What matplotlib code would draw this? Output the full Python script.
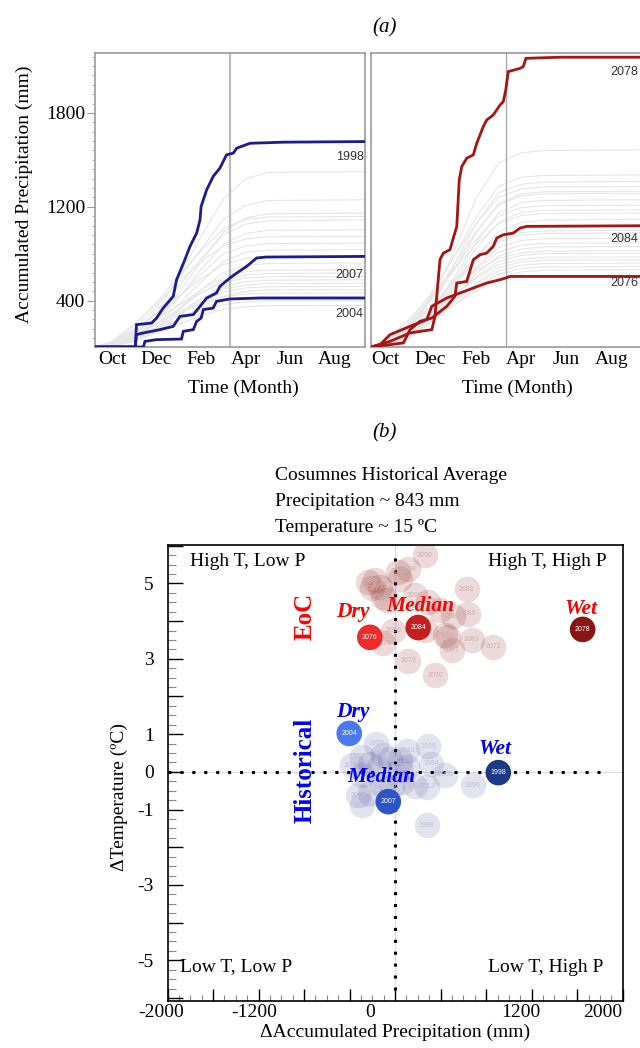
import matplotlib
matplotlib.use('Agg')
import matplotlib.pyplot as plt
import matplotlib.transforms as mtransforms
from matplotlib.ticker import FixedLocator, MultipleLocator, FixedFormatter

plt.rcParams['font.family'] = ['Liberation Serif', 'DejaVu Serif']

# ---------------- Panel (a) data ----------------
MONTH_POS = [0, 2, 4, 6, 8, 10]
MONTH_LABELS = ['Oct', 'Dec', 'Feb', 'Apr', 'Jun', 'Aug']
Y_TICK_POS = [600, 1200, 1800]
Y_TICK_LABELS = ['400', '1200', '1800']

GRID_L = [-0.76, 0.0, 1.0, 2.0, 3.0, 4.0, 5.0, 6.0, 7.0, 11.35]
GRAY_L = [
    [304, 310, 380, 520, 760, 1010, 1250, 1380, 1420, 1425],
    [304, 320, 420, 560, 740, 930, 1120, 1210, 1240, 1245],
    [304, 305, 360, 480, 650, 850, 1040, 1130, 1155, 1160],
    [304, 330, 440, 590, 760, 920, 1060, 1120, 1135, 1138],
    [304, 315, 400, 520, 690, 870, 1020, 1090, 1110, 1117],
    [304, 310, 370, 470, 620, 800, 960, 1030, 1050, 1053],
    [304, 340, 450, 580, 720, 850, 950, 995, 1008, 1010],
    [304, 320, 390, 490, 620, 770, 900, 950, 965, 968],
    [304, 310, 360, 450, 580, 720, 850, 910, 922, 926],
    [304, 330, 420, 520, 630, 740, 830, 870, 878, 880],
    [304, 306, 350, 430, 540, 670, 780, 825, 838, 841],
    [304, 325, 400, 480, 570, 670, 750, 785, 795, 798],
    [304, 312, 370, 450, 550, 650, 730, 765, 774, 777],
    [304, 335, 410, 490, 570, 650, 715, 745, 753, 755],
    [304, 308, 350, 420, 510, 610, 690, 722, 731, 734],
    [304, 320, 380, 450, 530, 610, 675, 700, 710, 712],
    [304, 318, 365, 430, 510, 590, 655, 682, 689, 691],
    [304, 305, 340, 400, 480, 560, 630, 660, 668, 670],
    [304, 330, 390, 450, 520, 580, 625, 643, 648, 649],
    [304, 310, 350, 410, 480, 550, 600, 620, 626, 628],
    [304, 322, 370, 420, 480, 535, 575, 592, 598, 600],
    [304, 309, 345, 395, 450, 505, 545, 562, 568, 570],
]

GRID_R = [-0.62, 0.0, 1.0, 2.0, 3.0, 4.0, 5.0, 6.0, 7.0, 11.28]
GRAY_R = [
    [304, 315, 400, 600, 900, 1250, 1480, 1545, 1560, 1564],
    [304, 320, 430, 620, 870, 1130, 1330, 1390, 1400, 1404],
    [304, 310, 380, 560, 820, 1090, 1290, 1345, 1358, 1362],
    [304, 330, 450, 640, 870, 1090, 1260, 1315, 1327, 1330],
    [304, 312, 390, 560, 790, 1030, 1220, 1283, 1296, 1300],
    [304, 318, 420, 600, 820, 1040, 1210, 1270, 1283, 1287],
    [304, 308, 370, 530, 740, 970, 1160, 1228, 1241, 1245],
    [304, 325, 440, 610, 800, 990, 1140, 1195, 1207, 1210],
    [304, 310, 380, 520, 720, 930, 1100, 1165, 1177, 1180],
    [304, 340, 470, 630, 790, 960, 1090, 1145, 1157, 1160],
    [304, 306, 360, 490, 680, 880, 1040, 1100, 1115, 1120],
    [304, 322, 410, 550, 720, 880, 1010, 1060, 1071, 1075],
    [304, 314, 390, 520, 690, 860, 990, 1035, 1046, 1050],
    [304, 330, 430, 560, 710, 860, 975, 1020, 1029, 1032],
    [304, 309, 370, 490, 650, 810, 940, 985, 996, 1000],
    [304, 318, 400, 520, 660, 800, 910, 955, 966, 970],
    [304, 305, 350, 460, 610, 770, 885, 930, 943, 947],
    [304, 335, 440, 560, 680, 790, 870, 905, 916, 920],
    [304, 312, 380, 490, 620, 750, 850, 890, 901, 904],
    [304, 326, 410, 510, 630, 740, 830, 865, 877, 880],
    [304, 307, 360, 460, 590, 710, 810, 848, 859, 862],
    [304, 320, 390, 480, 590, 700, 790, 826, 837, 840],
    [304, 310, 370, 460, 570, 680, 770, 806, 816, 819],
    [304, 330, 400, 480, 570, 660, 745, 784, 795, 798],
]

Y1998_M = [-0.76, 1.05, 1.1, 1.78, 2.0, 2.3, 2.75, 2.9, 3.27, 3.5, 3.8, 3.95, 4.0, 4.25,
           4.54, 4.84, 5.14, 5.44, 5.6, 6.19, 7.7, 11.35]
Y1998_V = [304, 304, 447, 457, 489, 553, 628, 734, 862, 947, 1032, 1117, 1202, 1309,
           1394, 1447, 1532, 1543, 1575, 1606, 1613, 1617]
Y2007_M = [-0.76, 1.05, 1.1, 1.41, 2.15, 2.75, 3.05, 3.65, 3.95, 4.25, 4.69, 4.84, 5.29,
           5.6, 6.04, 6.49, 6.93, 11.35]
Y2007_V = [304, 304, 383, 394, 415, 436, 500, 511, 564, 617, 649, 691, 745,
           777, 819, 873, 879, 883]
Y2004_M = [-0.76, 1.41, 1.48, 2.0, 3.12, 3.2, 3.65, 3.8, 4.0, 4.1, 4.54, 4.69, 5.29, 6.64, 11.35]
Y2004_V = [304, 304, 340, 351, 355, 404, 415, 468, 489, 543, 553, 596, 611, 617, 617]

Y2078_M = [-0.62, 0.22, 1.1, 2.06, 2.2, 2.42, 2.57, 2.86, 3.16, 3.27, 3.38, 3.6, 3.89, 4.04,
           4.33, 4.48, 4.77, 5.07, 5.21, 5.32, 5.43, 5.95, 6.09, 6.21, 7.71, 11.28]
Y2078_V = [304, 340, 394, 415, 500, 862, 904, 926, 1075, 1372, 1457, 1511, 1532, 1606,
           1713, 1755, 1787, 1851, 1872, 1947, 2064, 2085, 2096, 2149, 2156, 2156]
Y2084_M = [-0.62, 0.81, 1.1, 1.54, 2.06, 2.72, 3.08, 3.16, 3.6, 3.89, 4.19, 4.48, 4.77,
           4.92, 5.21, 5.65, 5.95, 6.24, 11.28]
Y2084_V = [304, 330, 415, 468, 489, 564, 628, 713, 723, 862, 894, 904, 947,
           1000, 1021, 1032, 1064, 1075, 1079]
Y2076_M = [-0.62, -0.22, 0.22, 1.1, 1.84, 2.06, 2.72, 3.3, 3.89, 4.48, 5.07, 5.32, 5.51, 11.28]
Y2076_V = [304, 319, 383, 436, 479, 564, 617, 649, 681, 713, 734, 745, 755, 755]

# ---------------- Panel (b) data ----------------
EOC_YEARS = ['2096', '2098', '2092', '2095', '2089', '2091', '2094', '2097', '2081', '2099',
             '2090', '2075', '2082', '2086', '2087', '2073', '2080', '2074', '2085', '2069',
             '2083', '2072', '2067', '2079', '2070', '2077']
EOC_DP = [262, 115, 27, 42, -178, -134, -105, -207, -75, -237,
          174, 291, 628, 643, 511, 394, -17, -105, 438, 467,
          672, 863, 497, 115, 350, 262]
EOC_DT = [5.75, 5.37, 5.31, 5.13, 5.09, 4.91, 4.63, 4.87, 4.56, 5.04,
          4.69, 4.51, 4.84, 4.20, 4.13, 4.29, 3.74, 3.41, 3.63, 3.58,
          3.51, 3.32, 3.23, 2.95, 2.57, 3.76]

HIST_YEARS = ['1996', '2010', '1995', '1994', '2000', '1990', '2013', '2002', '1988', '2003',
              '1997', '2006', '1985', '2011', '2001', '2008', '1993', '1992', '2012', '1991',
              '2005', '1987', '1986', '2009', '2014']
HIST_DP = [291, 106, -169, 315, 438, 681, 282, 174, 277, -382,
           -294, -222, -103, -46, -149, 42, 101, -294, -325, -294,
           -222, -119, -31, 57, 42]
HIST_DT = [0.68, 0.56, 0.74, 0.22, -0.08, -0.35, -0.39, -0.38, -1.41, 0.18,
           0.40, 0.22, 0.45, 0.33, 0.09, 0.05, 0.14, -0.08, -0.62, -0.88,
           -0.57, -0.35, -0.39, -0.26, 0.31]

SEL_YEARS = ['2076', '2084', '2078', '2004', '2007', '1998']
SEL_DP = [-222, 203, 1648, -403, -60, 907]
SEL_DT = [3.57, 3.83, 3.78, 1.02, -0.79, -0.02]
SEL_COLORS = ['#ee2a2a', '#c42020', '#8a1515', '#4a7af0', '#2d55c8', '#1e3a86']

X_TICKS = list(range(-2000, 2001, 400))
X_LABELS = {-2000: '-2000', -1200: '-1200', 0: '0', 1200: '1200', 2000: '2000'}
Y_TICKS = list(range(-6, 7))
Y_LABELS = {5: '5', 3: '3', 1: '1', 0: '0', -1: '-1', -3: '-3', -5: '-5'}

# ---------------- Figure ----------------
fig = plt.figure(figsize=(6.4, 10.48), dpi=100)


def px(l, t, r, b):
    return [l / 640, 1 - b / 1048, (r - l) / 640, (b - t) / 1048]


axL = fig.add_axes(px(95, 53, 365, 347))
axR = fig.add_axes(px(371, 53, 641, 347))
axB = fig.add_axes(px(167.5, 545, 622.7, 1001))

NAVY = '#1c1c8f'
DRED = '#a51515'

panels = [
    (axL, GRID_L, GRAY_L, [(Y1998_M, Y1998_V), (Y2007_M, Y2007_V), (Y2004_M, Y2004_V)],
     NAVY, (-0.76, 11.35), [('1998', 1519), ('2007', 766), ('2004', 517)], 11.28, 5.3, '#bbbbbb', 1.6),
    (axR, GRID_R, GRAY_R, [(Y2078_M, Y2078_V), (Y2084_M, Y2084_V), (Y2076_M, Y2076_V)],
     DRED, (-0.62, 11.28), [('2078', 2062), ('2084', 996), ('2076', 715)], 11.15, 5.33, '#aaaaaa', 1.0),
]

for ax, grid, grays, highs, hcol, xl, labs, labx, vline, vcol, vlw in panels:
    for g in grays:
        ax.plot(grid, g, color='#e6e6e6', lw=0.8, zorder=1)
    ax.axvline(vline, color=vcol, lw=vlw, zorder=2)
    for m, v in highs:
        ax.plot(m, v, color=hcol, lw=2.0, zorder=3, solid_joinstyle='miter')
    for t, yv in labs:
        ax.text(labx, yv, t, ha='right', va='center', fontsize=9,
                family=['Liberation Sans', 'DejaVu Sans'], color='#333333', zorder=4)
    ax.set_xlim(*xl)
    ax.set_ylim(304, 2183)
    ax.set_xticks(MONTH_POS)
    ax.set_xticklabels(MONTH_LABELS)
    ax.tick_params(axis='x', length=0, labelsize=14, pad=3)
    for s in ax.spines.values():
        s.set_color('#999999')
        s.set_linewidth(1.2)
    ax.set_xlabel('Time (Month)', fontsize=14)

axL.set_yticks(Y_TICK_POS)
axL.set_yticklabels(Y_TICK_LABELS)
axL.yaxis.set_minor_locator(MultipleLocator(60))
axL.tick_params(axis='y', which='major', length=6, color='#999999', labelsize=14, pad=1)
axL.tick_params(axis='y', which='minor', length=2.5, color='#aaaaaa')
axL.set_ylabel('Accumulated Precipitation (mm)', fontsize=14)
axL.yaxis.set_label_coords(-0.23, 0.52)
axL.xaxis.set_label_coords(0.548, -0.112)
axR.set_yticks([])
axR.xaxis.set_label_coords(0.541, -0.112)

fig.text(385 / 640, 1 - 28 / 1048, '(a)', ha='center', va='center', fontsize=15, style='italic')
fig.text(385 / 640, 1 - 433 / 1048, '(b)', ha='center', va='center', fontsize=15, style='italic')

fig.text(275 / 640, 1 - 476 / 1048, 'Cosumnes Historical Average', ha='left', va='center', fontsize=14)
fig.text(275 / 640, 1 - 502 / 1048, 'Precipitation ~ 843 mm', ha='left', va='center', fontsize=14)
fig.text(275 / 640, 1 - 527 / 1048, 'Temperature ~ 15 ºC', ha='left', va='center', fontsize=14)

# ---------------- Panel (b) ----------------
ax = axB
ax.set_xlim(-2000, 2000)
ax.set_ylim(-6.08, 6.02)
ax.axhline(0, color='#dddddd', lw=0.8, zorder=0)
ax.axvline(0, color='#dddddd', lw=0.8, zorder=0)
ax.axhline(0, xmin=0.0, xmax=0.957, color='black', lw=2.2, linestyle=(0, (1, 2.9)),
           dash_capstyle='butt', zorder=1)
ax.axvline(0, ymin=0.025, ymax=0.985, color='black', lw=2.2, linestyle=(0, (1, 2.9)),
           dash_capstyle='butt', zorder=1)

S = 340
ax.scatter(EOC_DP, EOC_DT, s=S, color='#8c1e1e', alpha=0.165, linewidths=0, zorder=2)
ax.scatter(HIST_DP, HIST_DT, s=S, color='#1e1e82', alpha=0.12, linewidths=0, zorder=2)
for x, y, t in zip(EOC_DP, EOC_DT, EOC_YEARS):
    ax.text(x, y, t, ha='center', va='center', fontsize=5, color='#cdb0b0',
            family=['Liberation Sans', 'DejaVu Sans'], zorder=3)
for x, y, t in zip(HIST_DP, HIST_DT, HIST_YEARS):
    ax.text(x, y, t, ha='center', va='center', fontsize=5, color='#bdbdd2',
            family=['Liberation Sans', 'DejaVu Sans'], zorder=3)
ax.scatter(SEL_DP, SEL_DT, s=S, c=SEL_COLORS, linewidths=0, zorder=4)
for x, y, t in zip(SEL_DP, SEL_DT, SEL_YEARS):
    ax.text(x, y, t, ha='center', va='center', fontsize=5, color='white',
            family=['Liberation Sans', 'DejaVu Sans'], zorder=5)

ax.xaxis.set_major_locator(FixedLocator(X_TICKS))
ax.xaxis.set_major_formatter(FixedFormatter([X_LABELS.get(v, '') for v in X_TICKS]))
ax.xaxis.set_minor_locator(MultipleLocator(100))
ax.yaxis.set_major_locator(FixedLocator(Y_TICKS))
ax.yaxis.set_major_formatter(FixedFormatter([Y_LABELS.get(v, '') for v in Y_TICKS]))
ax.yaxis.set_minor_locator(MultipleLocator(0.25))
ax.tick_params(axis='x', which='major', direction='in', length=8.5, width=1, color='black',
               labelsize=14, pad=2, top=False)
ax.tick_params(axis='x', which='minor', direction='in', length=4.3, width=0.8, color='#888888', top=False)
ax.tick_params(axis='y', which='major', direction='in', length=10.5, width=1, color='black',
               labelsize=14, pad=10, right=False)
ax.tick_params(axis='y', which='minor', direction='in', length=5.5, width=0.8, color='#888888', right=False)
for s in ax.spines.values():
    s.set_color('black')
    s.set_linewidth(1.2)

# shift the x tick labels leftwards as in the reference (pixel offsets)
LABEL_SHIFT_PX = {-2000: -6, -1200: -4, 0: -25, 1200: -11, 2000: -20}
fig.canvas.draw()
for tick_val, lab in zip(X_TICKS, ax.get_xticklabels()):
    dx = LABEL_SHIFT_PX.get(tick_val, 0)
    if dx:
        off = mtransforms.ScaledTranslation(dx / 100, 0, fig.dpi_scale_trans)
        lab.set_transform(lab.get_transform() + off)

ax.set_xlabel('ΔAccumulated Precipitation (mm)', fontsize=14)
ax.xaxis.set_label_coords(0.5, -0.05)
ax.set_ylabel('ΔTemperature (ºC)', fontsize=14)
ax.yaxis.set_label_coords(-0.086, 0.447)

ax.text(-1798, 5.57, 'High T, Low P', ha='left', va='center', fontsize=14)
ax.text(1859, 5.57, 'High T, High P', ha='right', va='center', fontsize=14)
ax.text(-1892, -5.18, 'Low T, Low P', ha='left', va='center', fontsize=14)
ax.text(1827, -5.18, 'Low T, High P', ha='right', va='center', fontsize=14)

RED = '#ff0000'
BLUE = '#0000ff'
ax.text(-787, 4.13, 'EoC', rotation=90, ha='center', va='center', fontsize=18,
        fontweight='bold', color=RED, zorder=6)
ax.text(-787, 0.03, 'Historical', rotation=90, ha='center', va='center', fontsize=18,
        fontweight='bold', color=BLUE, zorder=6)
for x, y, t, c in [(-371, 4.24, 'Dry', RED), (224, 4.41, 'Median', RED), (1631, 4.32, 'Wet', RED),
                   (-371, 1.59, 'Dry', BLUE), (-125, -0.14, 'Median', BLUE), (877, 0.6, 'Wet', BLUE)]:
    ax.text(x, y, t, ha='center', va='center', fontsize=15.5, fontweight='bold',
            style='italic', color=c, zorder=6)

fig.savefig('out.png', dpi=100)
